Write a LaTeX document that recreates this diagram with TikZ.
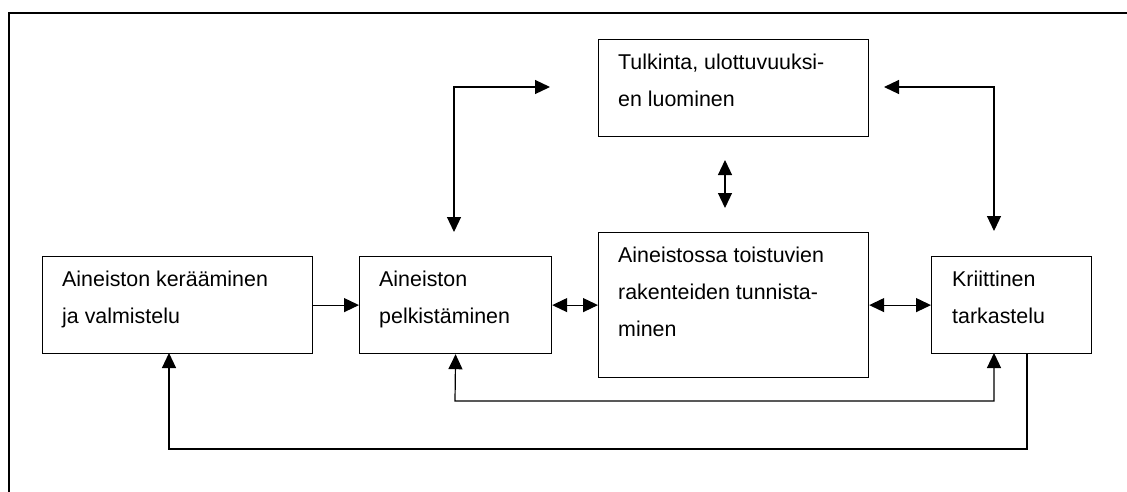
\documentclass[tikz,border=0pt]{standalone}
\usepackage{fontspec}
\setmainfont{Liberation Sans}
\usetikzlibrary{arrows.meta}
\begin{document}
\begin{tikzpicture}[x=1pt,y=-1pt,
  box/.style={draw, line width=1.2pt, rectangle, inner sep=0pt, anchor=north west},
  lbl/.style={anchor=base west, inner sep=0pt, font=\fontsize{21.4}{37}\selectfont},
  conn/.style={line width=1.2pt},
  tp/.tip={Triangle[length=15pt,width=14pt]}]
\useasboundingbox (0,0) rectangle (1127,491);
% frame
\draw[line width=2pt] (9,495) -- (9,13) -- (1130,13);
% boxes
\node[box, minimum width=270pt, minimum height=97pt] (A) at (42,256) {};
\node[box, minimum width=192pt, minimum height=97pt] (B) at (359,256) {};
\node[box, minimum width=270pt, minimum height=145pt] (C) at (598,232) {};
\node[box, minimum width=160pt, minimum height=97pt] (D) at (931,256) {};
\node[box, minimum width=270pt, minimum height=97pt] (T) at (598,39) {};
% labels
\node[lbl] (A1) at (62,286) {Aineiston kerääminen};
\node[lbl] (A2) at (62,323) {ja valmistelu};
\node[lbl] (B1) at (379,286) {Aineiston};
\node[lbl] (B2) at (379,323) {pelkistäminen};
\node[lbl] (C1) at (618,262) {Aineistossa toistuvien};
\node[lbl] (C2) at (618,299) {rakenteiden tunnista-};
\node[lbl] (C3) at (618,336) {minen};
\node[lbl] (D1) at (952,286) {Kriittinen};
\node[lbl] (D2) at (952,323) {tarkastelu};
\node[lbl] (T1) at (618,69) {Tulkinta, ulottuvuuksi-};
\node[lbl] (T2) at (618,106) {en luominen};
% coordinates
\coordinate (tc1) at (725,160);
\coordinate (tc2) at (725,208);
\coordinate (lt) at (550,87);
\coordinate (lb) at (454,232);
\coordinate (rt) at (884,87);
\coordinate (rb) at (994,231);
\coordinate (bl1) at (455,401);
\coordinate (br1) at (994,401);
\coordinate (Dd) at (994,353);
\coordinate (De) at (1027,353);
\coordinate (br2) at (1027,449);
\coordinate (bl2) at (169,449);
\coordinate (Aa) at (169,353);
% connectors
\draw[conn,-{tp}] (A.east) -- (B.west);
\draw[conn,{tp}-{tp}] (B.east) -- (C.west);
\draw[conn,{tp}-{tp}] (C.east) -- (D.west);
\draw[conn,{tp}-{tp}] (tc1) -- (tc2);
\draw[conn,{tp}-{tp}] (lt) -| (lb);
\draw[conn,{tp}-{tp}] (rt) -| (rb);
\draw[conn,{tp}-{tp}] (B.south) -- (bl1) -- (br1) -- (Dd);
\draw[conn,-{tp}] (De) -- (br2) -- (bl2) -- (Aa);
\end{tikzpicture}
\end{document}
